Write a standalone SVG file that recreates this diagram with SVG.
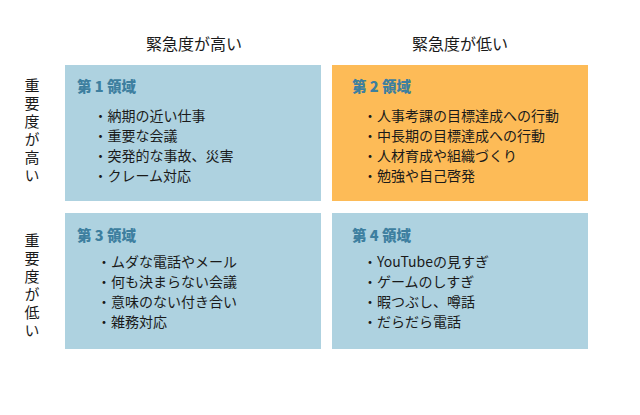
<svg xmlns="http://www.w3.org/2000/svg" width="640" height="415" viewBox="0 0 640 415">
<style>
text { font-family: "Noto Sans CJK JP", "Noto Sans", sans-serif; fill: #1a1a1a; }
.hdr { font-size: 16px; text-anchor: middle; }
.side { font-size: 15px; writing-mode: vertical-rl; text-orientation: upright; letter-spacing: 3px; }
.ttl { font-size: 14.5px; font-weight: 900; fill: #3d7f9f; }
.item { font-size: 14px; }
.blue { fill: #aed2e0; }
.orange { fill: #fdbb57; }
</style>
<rect width="640" height="415" fill="#ffffff"/>
<g id="header-high"><text class="hdr" x="194" y="50">緊急度が高い</text></g>
<g id="header-low"><text class="hdr" x="460" y="50">緊急度が低い</text></g>
<g id="side-high"><text class="side" x="32" y="78">重要度が高い</text></g>
<g id="side-low"><text class="side" x="32" y="233">重要度が低い</text></g>
<g id="q1">
<rect class="blue" x="65" y="65" width="256" height="136"/>
<text class="ttl" x="77" y="92">第 1 領域</text>
<text class="item" x="93.5" y="121">・納期の近い仕事</text>
<text class="item" x="93.5" y="141">・重要な会議</text>
<text class="item" x="93.5" y="161">・突発的な事故、災害</text>
<text class="item" x="93.5" y="181">・クレーム対応</text>
</g>
<g id="q2">
<rect class="orange" x="332" y="65" width="256" height="136"/>
<text class="ttl" x="352" y="92">第 2 領域</text>
<text class="item" x="363" y="121">・人事考課の目標達成への行動</text>
<text class="item" x="363" y="141">・中長期の目標達成への行動</text>
<text class="item" x="363" y="161">・人材育成や組織づくり</text>
<text class="item" x="363" y="181">・勉強や自己啓発</text>
</g>
<g id="q3">
<rect class="blue" x="65" y="213" width="256" height="136"/>
<text class="ttl" x="77" y="241">第 3 領域</text>
<text class="item" x="97" y="267">・ムダな電話やメール</text>
<text class="item" x="97" y="287">・何も決まらない会議</text>
<text class="item" x="97" y="307">・意味のない付き合い</text>
<text class="item" x="97" y="327">・雑務対応</text>
</g>
<g id="q4">
<rect class="blue" x="332" y="213" width="256" height="136"/>
<text class="ttl" x="352" y="241">第 4 領域</text>
<text class="item" x="363" y="267">・YouTubeの見すぎ</text>
<text class="item" x="363" y="287">・ゲームのしすぎ</text>
<text class="item" x="363" y="307">・暇つぶし、噂話</text>
<text class="item" x="363" y="327">・だらだら電話</text>
</g>
<g id="connectors"></g>
</svg>
